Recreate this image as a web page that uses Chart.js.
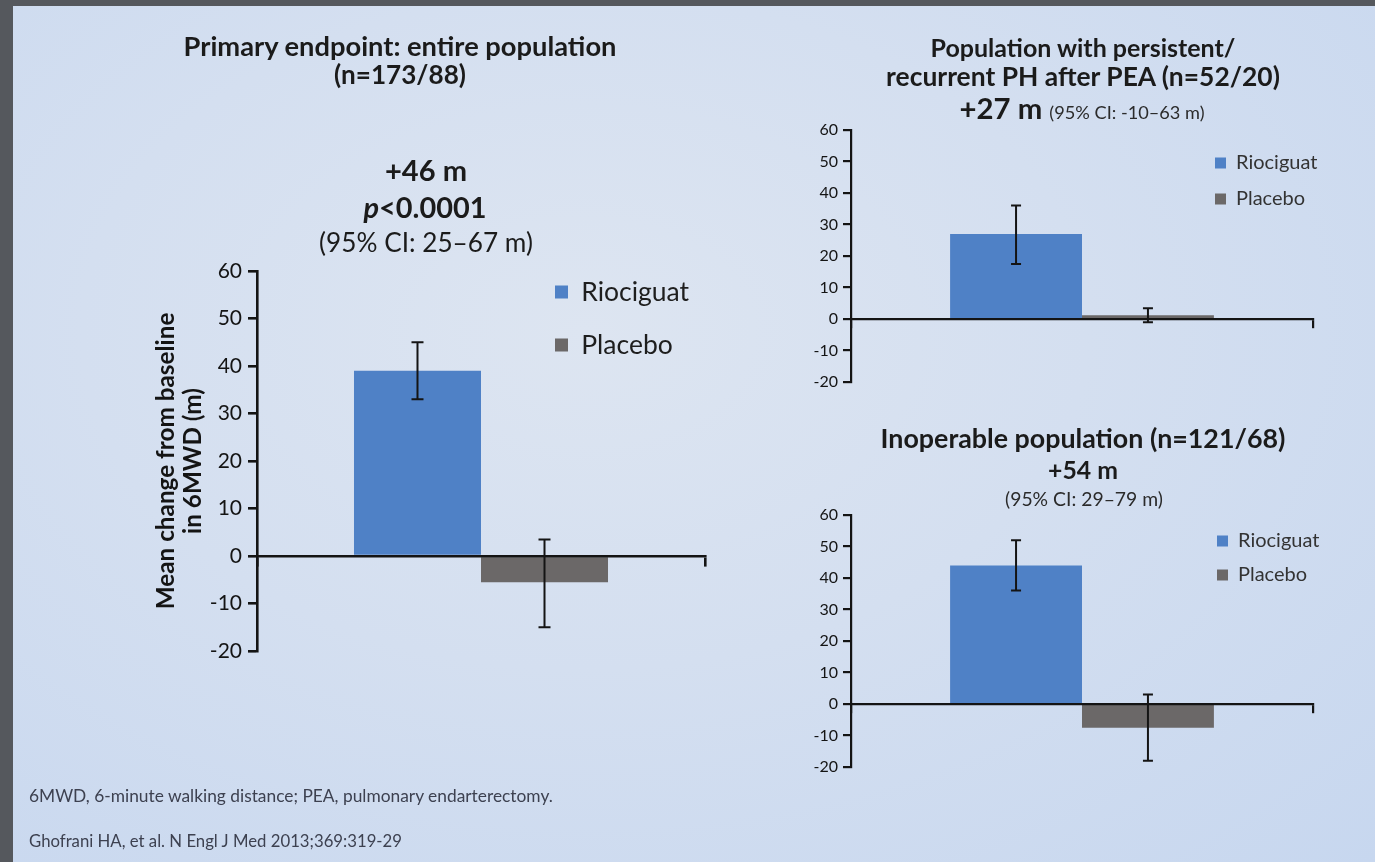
<!DOCTYPE html>
<html>
<head>
<meta charset="utf-8">
<script src="https://cdn.jsdelivr.net/npm/chart.js@4/dist/chart.umd.min.js"></script>
<style>
  html, body { margin: 0; padding: 0; }
  body {
    width: 1375px; height: 862px; position: relative; overflow: hidden;
    background: #55585d;
    font-family: Lato, "Open Sans", sans-serif;
    color: #1b1b1b;
  }
  #slide {
    position: absolute; left: 13px; top: 6px; right: 0; bottom: 0;
    background: radial-gradient(ellipse at 42% 38%, #dde5f1 0%, #d4dff0 45%, #c7d7ef 100%);
  }
  canvas { position: absolute; left: 0; top: 0; }
  .t { position: absolute; transform: translate(-50%, -50%); white-space: nowrap; line-height: 1.2; font-size: 20px; }
  .b { font-weight: 700; }
  .small { font-weight: 400; font-size: 0.62em; color: #2b2b2b; }
  .note { position: absolute; transform: translateY(-50%); white-space: nowrap; font-size: 14px; color: #3d4150; filter: blur(0.4px); }
</style>
</head>
<body>
<div id="slide"></div>

<canvas id="primary" width="1375" height="862"></canvas>
<canvas id="pea" width="1375" height="862"></canvas>
<canvas id="inoperable" width="1375" height="862"></canvas>

<div class="t b" style="left:400px;top:46px" data-w="433">Primary endpoint: entire population</div>
<div class="t b" style="left:400px;top:75px" data-w="132">(n=173/88)</div>
<div class="t b" style="left:426px;top:170px;font-size:23px" data-w="82">+46 m</div>
<div class="t b" style="left:425px;top:207px;font-size:23px" data-w="123"><i>p</i>&lt;0.0001</div>
<div class="t" style="left:426px;top:243px" data-w="214">(95% CI: 25–67 m)</div>

<div class="t b" style="left:1083px;top:47px" data-w="305">Population with persistent/</div>
<div class="t b" style="left:1083px;top:77px" data-w="394">recurrent PH after PEA (n=52/20)</div>
<div class="t b" style="left:1082px;top:108px" data-w="245">+27 m <span class="small">(95% CI: -10–63 m)</span></div>

<div class="t b" style="left:1083px;top:438px" data-w="405">Inoperable population (n=121/68)</div>
<div class="t b" style="left:1083px;top:470px" data-w="70">+54 m</div>
<div class="t" style="left:1084px;top:499px;font-size:13px;color:#2b2b2b" data-w="158">(95% CI: 29–79 m)</div>

<div class="note" style="left:29px;top:795px" data-w="524">6MWD, 6-minute walking distance; PEA, pulmonary endarterectomy.</div>
<div class="note" style="left:29px;top:840px" data-w="373">Ghofrani HA, et al. N Engl J Med 2013;369:319-29</div>

<script>
const categories = ['6MWD'];
const seriesLabels = ['Riociguat', 'Placebo'];
const yTickValues = [-20, -10, 0, 10, 20, 30, 40, 50, 60];

// mean change from baseline (m) and 95% CI, entire population
const primaryRiociguat = [39];
const primaryPlacebo = [-5.5];
const primaryRiociguatCI = [[33, 45]];
const primaryPlaceboCI = [[-15, 3.5]];

// persistent/recurrent PH after PEA
const peaRiociguat = [27];
const peaPlacebo = [1.2];
const peaRiociguatCI = [[17.5, 36]];
const peaPlaceboCI = [[-1, 3.4]];

// inoperable
const inopRiociguat = [44];
const inopPlacebo = [-7.5];
const inopRiociguatCI = [[36, 52]];
const inopPlaceboCI = [[-18, 3]];

const barColors = ['#4f81c6', '#6b6868'];
const ink = '#141414';
const family = 'Lato, "Open Sans", sans-serif';

// stretch each heading to its measured width
document.querySelectorAll('[data-w]').forEach(el => {
  const size = parseFloat(getComputedStyle(el).fontSize);
  const w = el.getBoundingClientRect().width;
  el.style.fontSize = (size * el.dataset.w / w).toFixed(2) + 'px';
});

const errorBars = {
  id: 'errorBars',
  afterDatasetsDraw(chart, args, opts) {
    const { ctx } = chart;
    const y = chart.scales.y;
    ctx.save();
    ctx.strokeStyle = opts.color;
    ctx.lineWidth = opts.width;
    chart.data.datasets.forEach((ds, i) => {
      chart.getDatasetMeta(i).data.forEach((bar, j) => {
        const [lo, hi] = ds.ci[j];
        const y1 = y.getPixelForValue(hi);
        const y2 = y.getPixelForValue(lo);
        ctx.beginPath();
        ctx.moveTo(bar.x, y1); ctx.lineTo(bar.x, y2);
        ctx.moveTo(bar.x - opts.cap, y1); ctx.lineTo(bar.x + opts.cap, y1);
        ctx.moveTo(bar.x - opts.cap, y2); ctx.lineTo(bar.x + opts.cap, y2);
        ctx.stroke();
      });
    });
    ctx.restore();
  }
};

// legend sits inside the plot area, to the right of the bars;
// its box is widened so the labels are not clipped at the axis end
const legendSpot = {
  id: 'legendSpot',
  afterLayout(chart, args, opts) {
    const lg = chart.legend;
    const pad = lg.options.labels.padding;
    lg.left = opts.x - pad;
    lg.top = opts.y - pad;
    lg.right = chart.width;
    lg.bottom = chart.height;
  }
};

function buildPanel(id, rioc, plac, riocCI, placCI, s) {
  new Chart(document.getElementById(id), {
    type: 'bar',
    data: {
      labels: categories,
      datasets: [
        { label: seriesLabels[0], data: rioc, ci: riocCI, backgroundColor: barColors[0], borderWidth: 0 },
        { label: seriesLabels[1], data: plac, ci: placCI, backgroundColor: barColors[1], borderWidth: 0 }
      ]
    },
    options: {
      responsive: false,
      animation: false,
      events: [],
      layout: { padding: s.pad },
      datasets: { bar: { barPercentage: 1, categoryPercentage: s.cat } },
      scales: {
        x: {
          position: { y: 0 },
          ticks: { display: false },
          grid: { drawOnChartArea: false, tickLength: s.tick, color: ink, lineWidth: s.line },
          border: { color: ink, width: s.line, z: 1 }
        },
        y: {
          min: Math.min(...yTickValues),
          max: Math.max(...yTickValues),
          afterBuildTicks: sc => { sc.ticks = yTickValues.map(v => ({ value: v })); },
          afterFit: sc => { sc.width = s.axisWidth; },
          ticks: { color: ink, padding: s.tickPad, font: { family, size: s.tickFont } },
          grid: { drawOnChartArea: false, tickLength: s.tick, color: ink, lineWidth: s.line },
          border: { color: ink, width: s.line },
          title: s.title || { display: false }
        }
      },
      plugins: {
        legend: {
          position: 'chartArea',
          align: 'start',
          labels: {
            boxWidth: s.box, boxHeight: s.box, padding: s.legendGap,
            color: s.legendColor, font: { family, size: s.legendFont }
          }
        },
        legendSpot: s.legendAt,
        errorBars: { color: ink, width: s.errWidth, cap: s.cap },
        tooltip: { enabled: false }
      }
    },
    plugins: [errorBars, legendSpot]
  });
}

buildPanel('primary', primaryRiociguat, primaryPlacebo, primaryRiociguatCI, primaryPlaceboCI, {
  pad: { left: 140, top: 271, right: 670, bottom: 211 },
  axisWidth: 117, cat: 0.567,
  tick: 9, line: 2.6, tickFont: 21, tickPad: 6,
  box: 13, legendFont: 26.5, legendGap: 26.5, legendColor: '#1e1e1e',
  legendAt: { x: 555, y: 278.75 },
  errWidth: 2, cap: 6,
  title: {
    display: true,
    text: ['Mean change from baseline', 'in 6MWD (m)'],
    color: ink,
    padding: { top: 12.5, bottom: 0 },
    font: { family, size: 24.3, weight: 'bold', lineHeight: 1.11 }
  }
});

buildPanel('pea', peaRiociguat, peaPlacebo, peaRiociguatCI, peaPlaceboCI, {
  pad: { left: 780, top: 130, right: 62, bottom: 480 },
  axisWidth: 71, cat: 0.571,
  tick: 8, line: 2.2, tickFont: 16, tickPad: 5,
  box: 11, legendFont: 20, legendGap: 16, legendColor: '#333',
  legendAt: { x: 1215, y: 153 },
  errWidth: 2, cap: 5
});

buildPanel('inoperable', inopRiociguat, inopPlacebo, inopRiociguatCI, inopPlaceboCI, {
  pad: { left: 780, top: 515, right: 62, bottom: 95 },
  axisWidth: 71, cat: 0.571,
  tick: 8, line: 2.2, tickFont: 16, tickPad: 5,
  box: 11, legendFont: 20, legendGap: 14, legendColor: '#333',
  legendAt: { x: 1217, y: 531 },
  errWidth: 2, cap: 5
});
</script>
</body>
</html>
